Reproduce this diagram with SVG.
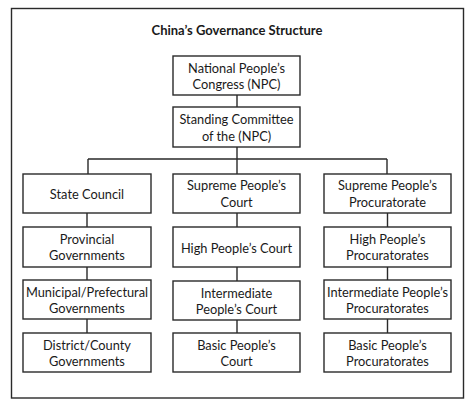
<svg xmlns="http://www.w3.org/2000/svg" width="474" height="406" viewBox="0 0 474 406">
<style>
.box{fill:#fff;stroke:#2a2a2a;stroke-width:1.4}
.ln{stroke:#2a2a2a;stroke-width:1.4;fill:none}
text{font-family:Lato,"Liberation Sans",sans-serif;font-size:12.8px;fill:#1a1a1a;text-anchor:middle}
.title{font-weight:bold;font-size:13px}
</style>
<rect x="0" y="0" width="474" height="406" fill="#fff"/>
<rect x="11.5" y="8.5" width="452" height="389.5" class="box"/>
<text class="title" x="237" y="35">China’s Governance Structure</text>
<g id="connectors">
<path class="ln" d="M237 95V107M237 147V174M88 159H387M88 159V174M387 159V174"/>
<path class="ln" d="M87 213V227M87 267V280M87 319V333"/>
<path class="ln" d="M237 213V227M237 267V281M237 320V333"/>
<path class="ln" d="M387.5 213V227M387.5 267V280M387.5 319V333"/>
</g>
<g id="npc"><rect class="box" x="173" y="56" width="127" height="39"/><text x="236.5" y="72.5">National People’s</text><text x="236.5" y="89">Congress (NPC)</text></g>
<g id="standing"><rect class="box" x="173" y="107" width="127" height="40"/><text x="236.5" y="124">Standing Committee</text><text x="236.5" y="141">of the (NPC)</text></g>
<g id="state-council"><rect class="box" x="23" y="174" width="128" height="39"/><text x="87" y="199">State Council</text></g>
<g id="supreme-court"><rect class="box" x="173" y="174" width="127" height="39"/><text x="236.5" y="190">Supreme People’s</text><text x="236.5" y="207">Court</text></g>
<g id="supreme-proc"><rect class="box" x="324" y="174" width="127" height="39"/><text x="387.5" y="190">Supreme People’s</text><text x="387.5" y="207">Procuratorate</text></g>
<g id="provincial"><rect class="box" x="23" y="227" width="128" height="40"/><text x="87" y="243.5">Provincial</text><text x="87" y="260">Governments</text></g>
<g id="high-court"><rect class="box" x="173" y="227" width="127" height="40"/><text x="236.5" y="252.5">High People’s Court</text></g>
<g id="high-proc"><rect class="box" x="324" y="227" width="127" height="40"/><text x="387.5" y="243.5">High People’s</text><text x="387.5" y="260">Procuratorates</text></g>
<g id="municipal"><rect class="box" x="23" y="280" width="128" height="39"/><text x="87" y="297">Municipal/Prefectural</text><text x="87" y="313">Governments</text></g>
<g id="intermediate-court"><rect class="box" x="173" y="281" width="127" height="39"/><text x="236.5" y="298">Intermediate</text><text x="236.5" y="314">People’s Court</text></g>
<g id="intermediate-proc"><rect class="box" x="324" y="280" width="127" height="39"/><text x="387.5" y="297">Intermediate People’s</text><text x="387.5" y="313">Procuratorates</text></g>
<g id="district"><rect class="box" x="23" y="333" width="128" height="39"/><text x="87" y="349.5">District/County</text><text x="87" y="366">Governments</text></g>
<g id="basic-court"><rect class="box" x="173" y="333" width="127" height="39"/><text x="236.5" y="349.5">Basic People’s</text><text x="236.5" y="366">Court</text></g>
<g id="basic-proc"><rect class="box" x="324" y="333" width="127" height="39"/><text x="387.5" y="349.5">Basic People’s</text><text x="387.5" y="366">Procuratorates</text></g>
</svg>
